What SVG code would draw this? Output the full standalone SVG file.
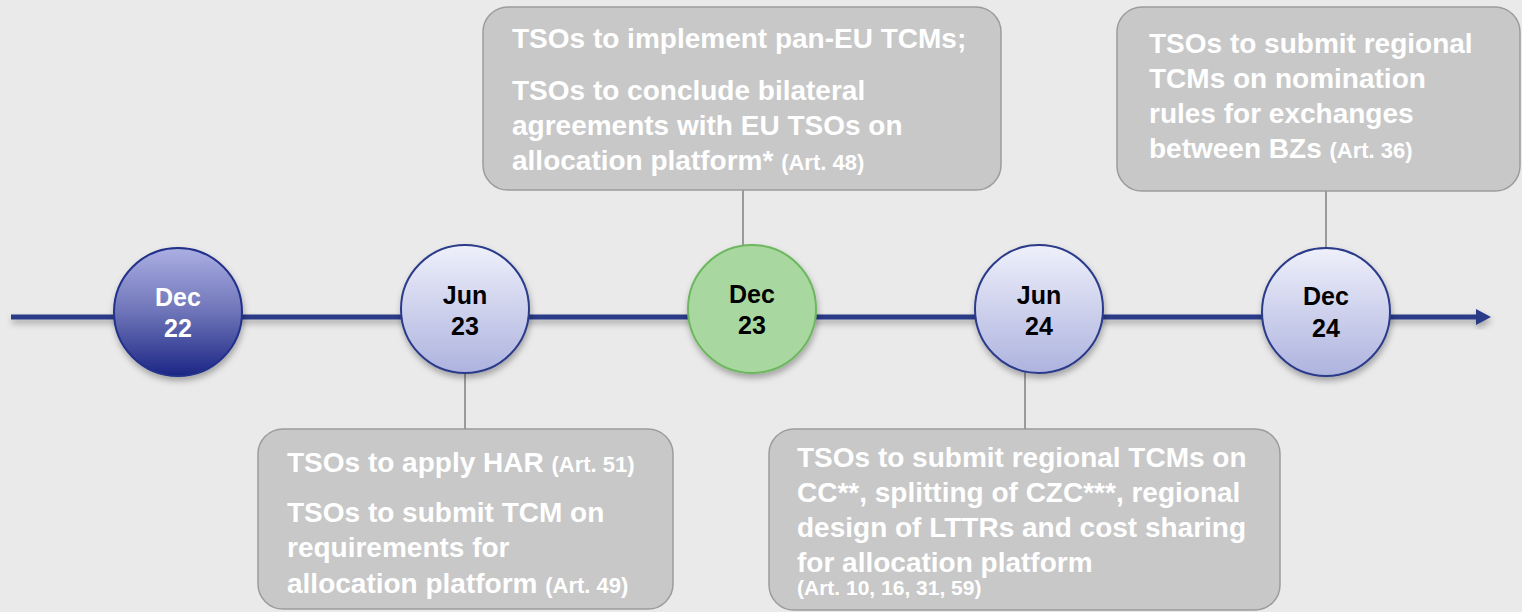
<svg xmlns="http://www.w3.org/2000/svg" width="1522" height="612" viewBox="0 0 1522 612">
<style>
.box{fill:#c8c8c8;stroke:#9c9c9c;stroke-width:1.5}
.bt{font-family:"Liberation Sans",Arial,sans-serif;font-weight:bold;font-size:28px;fill:#ffffff}
.art{font-size:22px}
.art2{font-size:21px}
.ct{font-family:"Liberation Sans",Arial,sans-serif;font-weight:bold;font-size:25px;text-anchor:middle}
.conn{stroke:#7f7f7f;stroke-width:1.5;fill:none}
.lc{fill:url(#gLight);stroke:#2b3a8a;stroke-width:2}
</style>
<defs>
<linearGradient id="gLight" x1="0" y1="0" x2="0" y2="1">
<stop offset="0" stop-color="#eef0fa"/>
<stop offset="1" stop-color="#aeb3df"/>
</linearGradient>
<linearGradient id="gDark" x1="0" y1="0" x2="0" y2="1">
<stop offset="0" stop-color="#abafe3"/>
<stop offset="0.5" stop-color="#6e74b8"/>
<stop offset="1" stop-color="#1b2685"/>
</linearGradient>
<filter id="sh" x="-20%" y="-20%" width="150%" height="150%">
<feDropShadow dx="1" dy="4" stdDeviation="3" flood-color="#000" flood-opacity="0.3"/>
</filter>
</defs>
<rect x="0" y="0" width="1522" height="612" fill="#eaeaea"/>

<g id="timeline" filter="url(#sh)">
<line x1="11" y1="317" x2="1478" y2="317" stroke="#2b3a87" stroke-width="5"/>
<polygon points="1476,309 1491,317 1476,325" fill="#2b3a87"/>
</g>

<g id="connectors">
<line class="conn" x1="743" y1="190" x2="743" y2="246"/>
<line class="conn" x1="1326" y1="191" x2="1326" y2="249"/>
<line class="conn" x1="465" y1="372" x2="465" y2="429"/>
<line class="conn" x1="1025" y1="372" x2="1025" y2="429"/>
</g>

<g id="dec22">
<circle cx="178" cy="312" r="64" fill="url(#gDark)" stroke="#23308a" stroke-width="2" filter="url(#sh)"/>
<text class="ct" x="178" y="306" fill="#ffffff">Dec</text>
<text class="ct" x="178" y="337" fill="#ffffff">22</text>
</g>
<g id="jun23">
<circle class="lc" cx="465" cy="309" r="64" filter="url(#sh)"/>
<text class="ct" x="465" y="304" fill="#000">Jun</text>
<text class="ct" x="465" y="335" fill="#000">23</text>
</g>
<g id="dec23">
<circle cx="752" cy="309" r="64" fill="#a8d89f" stroke="#6cb75e" stroke-width="2" filter="url(#sh)"/>
<text class="ct" x="752" y="303" fill="#000">Dec</text>
<text class="ct" x="752" y="334" fill="#000">23</text>
</g>
<g id="jun24">
<circle class="lc" cx="1039" cy="309" r="64" filter="url(#sh)"/>
<text class="ct" x="1039" y="304" fill="#000">Jun</text>
<text class="ct" x="1039" y="335" fill="#000">24</text>
</g>
<g id="dec24">
<circle class="lc" cx="1326" cy="312" r="64" filter="url(#sh)"/>
<text class="ct" x="1326" y="305" fill="#000">Dec</text>
<text class="ct" x="1326" y="337" fill="#000">24</text>
</g>

<g id="box-dec23">
<rect class="box" x="483" y="7" width="518" height="183" rx="25"/>
<text class="bt" x="512" y="48">TSOs to implement pan-EU TCMs;</text>
<text class="bt" x="512" y="100">TSOs to conclude bilateral</text>
<text class="bt" x="512" y="135">agreements with EU TSOs on</text>
<text class="bt" x="512" y="170">allocation platform* <tspan class="art">(Art. 48)</tspan></text>
</g>

<g id="box-dec24">
<rect class="box" x="1117" y="7" width="403" height="184" rx="25"/>
<text class="bt" x="1149" y="53">TSOs to submit regional</text>
<text class="bt" x="1149" y="88">TCMs on nomination</text>
<text class="bt" x="1149" y="123">rules for exchanges</text>
<text class="bt" x="1149" y="158">between BZs <tspan class="art">(Art. 36)</tspan></text>
</g>

<g id="box-jun23">
<rect class="box" x="258" y="429" width="415" height="180" rx="25"/>
<text class="bt" x="287" y="472">TSOs to apply HAR  <tspan class="art">(Art. 51)</tspan></text>
<text class="bt" x="287" y="522">TSOs to submit TCM on</text>
<text class="bt" x="287" y="557">requirements for</text>
<text class="bt" x="287" y="593">allocation platform <tspan class="art">(Art. 49)</tspan></text>
</g>

<g id="box-jun24">
<rect class="box" x="769" y="429" width="511" height="181" rx="25"/>
<text class="bt" x="797" y="467">TSOs to submit regional TCMs on</text>
<text class="bt" x="797" y="502">CC**, splitting of CZC***, regional</text>
<text class="bt" x="797" y="537">design of LTTRs and cost sharing</text>
<text class="bt" x="797" y="572">for allocation platform</text>
<text class="bt art2" x="797" y="595">(Art. 10, 16, 31, 59)</text>
</g>
</svg>
